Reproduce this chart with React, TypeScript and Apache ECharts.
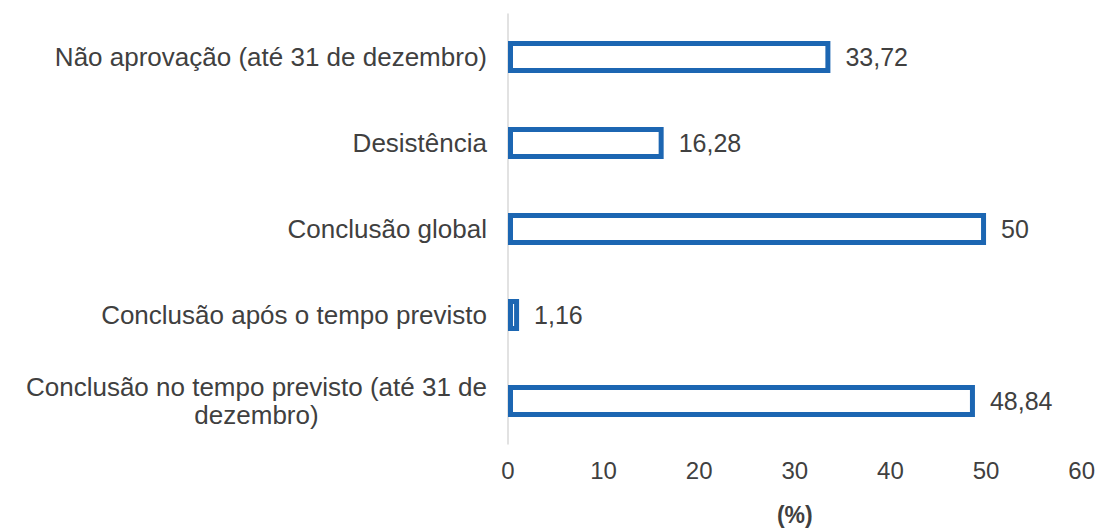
import React, { useEffect, useRef } from "react";
import * as echarts from "echarts";

const categories = [
  "Não aprovação (até 31 de dezembro)",
  "Desistência",
  "Conclusão global",
  "Conclusão após o tempo previsto",
  "Conclusão no tempo previsto (até 31 de\ndezembro)",
];
const values = [33.72, 16.28, 50, 1.16, 48.84];
const xTicks = [0, 10, 20, 30, 40, 50, 60];
const axisName = "(%)";

const TEXT = "#404040";
const BLUE = "#1c66b2";
const FONT = "Liberation Sans, Arial, sans-serif";

export default function App() {
  const ref = useRef<HTMLDivElement>(null);
  useEffect(() => {
    document.body.style.margin = "0";
    const chart = echarts.init(ref.current!, null, { renderer: "svg" });
    chart.setOption({
      animation: false,
      backgroundColor: "#ffffff",
      textStyle: { fontFamily: FONT },
      grid: { left: 508, width: 575, top: 14, height: 431, containLabel: false },
      xAxis: {
        type: "value",
        min: xTicks[0],
        max: xTicks[xTicks.length - 1],
        interval: 10,
        axisLine: { show: false },
        axisTick: { show: false },
        splitLine: { show: false },
        axisLabel: { color: TEXT, fontSize: 24, margin: 14, fontFamily: FONT },
        name: axisName,
        nameLocation: "middle",
        nameGap: 59,
        nameTextStyle: { color: TEXT, fontSize: 23, fontWeight: "bold", fontFamily: FONT },
      },
      yAxis: {
        type: "category",
        inverse: true,
        data: categories,
        axisLine: { show: true, lineStyle: { color: "#d9d9d9", width: 1.5 } },
        axisTick: { show: false },
        axisLabel: {
          margin: 21,
          formatter: (v: string) => v.split("\n").map((l) => `{c|${l}}`).join("\n"),
          rich: {
            c: { align: "center", color: TEXT, fontSize: 26, lineHeight: 28, fontFamily: FONT },
          },
        },
      },
      series: [
        {
          type: "bar",
          data: values,
          barWidth: 32,
          itemStyle: { color: "#ffffff", borderColor: BLUE, borderWidth: 5 },
          label: {
            show: true,
            position: "right",
            distance: 15,
            color: TEXT,
            fontSize: 25,
            fontFamily: FONT,
            formatter: (p: any) => String(p.value).replace(".", ","),
          },
        },
      ],
    });
    return () => chart.dispose();
  }, []);
  return <div ref={ref} style={{ width: 1098, height: 531 }} />;
}
